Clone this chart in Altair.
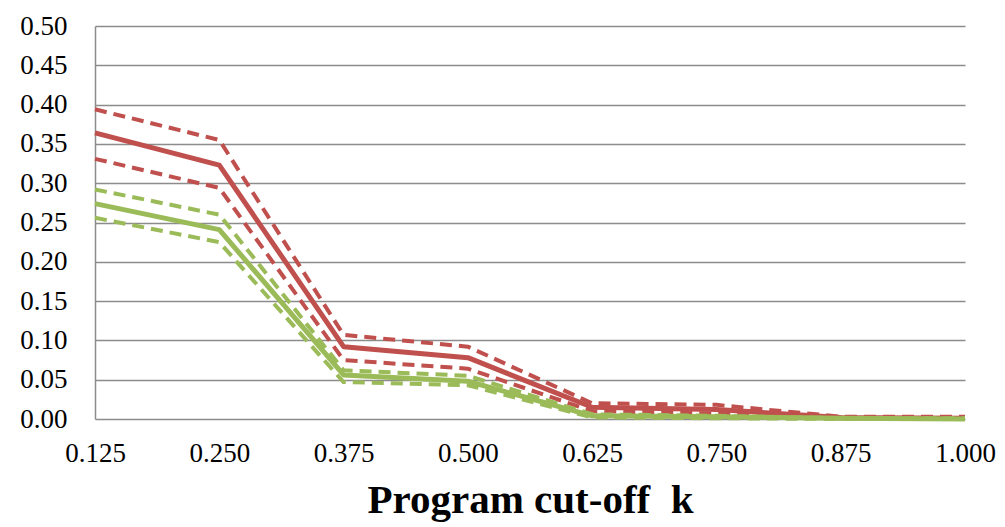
import altair as alt
import pandas as pd

k_values = [0.125, 0.250, 0.375, 0.500, 0.625, 0.750, 0.875, 1.000]
y_ticks = [0.00, 0.05, 0.10, 0.15, 0.20, 0.25, 0.30, 0.35, 0.40, 0.45, 0.50]

red_mid = [0.364, 0.323, 0.092, 0.078, 0.015, 0.012, 0.002, 0.001]
red_upper = [0.394, 0.355, 0.107, 0.092, 0.020, 0.018, 0.003, 0.003]
red_lower = [0.331, 0.294, 0.075, 0.064, 0.010, 0.007, 0.001, 0.000]
green_mid = [0.274, 0.241, 0.056, 0.048, 0.004, 0.003, 0.001, 0.000]
green_upper = [0.292, 0.260, 0.062, 0.055, 0.006, 0.004, 0.001, 0.001]
green_lower = [0.256, 0.225, 0.047, 0.043, 0.002, 0.001, 0.000, 0.000]

RED = "#C0504D"
GREEN = "#9BBB59"
FONT = "'Liberation Serif', 'Times New Roman', 'DejaVu Serif', serif"

series = [
    ("red_upper", red_upper, RED, True),
    ("red_lower", red_lower, RED, True),
    ("red_mid", red_mid, RED, False),
    ("green_upper", green_upper, GREEN, True),
    ("green_lower", green_lower, GREEN, True),
    ("green_mid", green_mid, GREEN, False),
]

x_enc = alt.X(
    "k:Q",
    scale=alt.Scale(domain=[0.125, 1.0], nice=False, zero=False),
    axis=alt.Axis(
        values=k_values, format=".3f", grid=False, domain=False, ticks=False,
        labelFont=FONT, labelFontSize=27, labelColor="#000000", labelPadding=21,
        title="Program cut-off\u00a0 k", titleFont=FONT, titleFontSize=41,
        titleFontWeight="bold", titleColor="#000000", titlePadding=14,
        labelFlush=False,
    ),
)
y_enc = alt.Y(
    "v:Q",
    scale=alt.Scale(domain=[0, 0.5], nice=False),
    axis=alt.Axis(
        values=y_ticks, format=".2f", grid=True, gridColor="#8C8C8C", gridWidth=1.5,
        domain=True, domainColor="#8C8C8C", domainWidth=1.5, ticks=False,
        labelFont=FONT, labelFontSize=27, labelColor="#000000", labelPadding=28,
        title=None,
    ),
)

layers = []
for name, vals, color, dashed in series:
    df = pd.DataFrame({"k": k_values, "v": vals})
    kw = dict(color=color, strokeCap="butt", strokeJoin="round")
    if dashed:
        kw.update(strokeWidth=4, strokeDash=[12, 7])
    else:
        kw.update(strokeWidth=5)
    layers.append(alt.Chart(df).mark_line(**kw).encode(x=x_enc, y=y_enc))

chart = alt.layer(*layers).properties(
    width=870, height=393,
    autosize=alt.AutoSizeParams(type="none"),
    padding={"left": 95, "top": 26, "right": 40, "bottom": 108},
    background="#FFFFFF",
).configure_view(stroke=None)

chart.save("out.html", embed_options={"renderer": "svg", "actions": False})
